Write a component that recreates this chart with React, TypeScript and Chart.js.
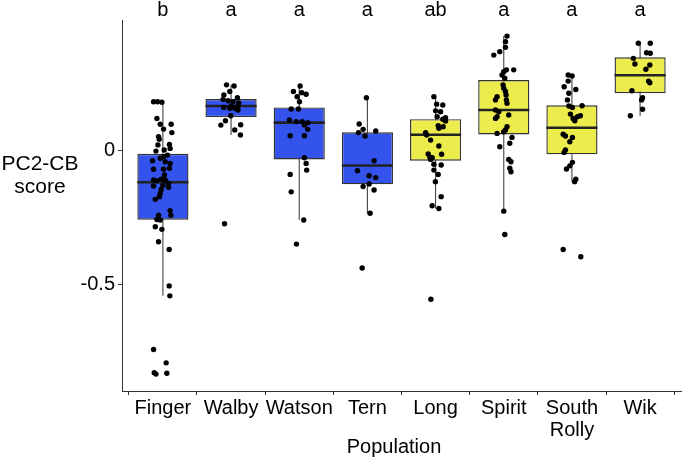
import React, { useEffect, useRef } from "react";
import { Chart, registerables } from "chart.js";

Chart.register(...registerables);

const categories = ["Finger", "Walby", "Watson", "Tern", "Long", "Spirit", "South Rolly", "Wik"];
const tickLabels: (string | string[])[] = ["Finger", "Walby", "Watson", "Tern", "Long", "Spirit", ["South", "Rolly"], "Wik"];
const groups = ["blue", "blue", "blue", "blue", "yellow", "yellow", "yellow", "yellow"];
const letters = ["b", "a", "a", "a", "ab", "a", "a", "a"];

const whiskerLow = [-0.544, 0.056, -0.261, -0.236, -0.218, -0.228, -0.118, 0.128];
const q1 = [-0.26, 0.123, -0.035, -0.128, -0.04, 0.058, -0.016, 0.212];
const medians = [-0.12, 0.164, 0.102, -0.058, 0.057, 0.149, 0.083, 0.279];
const q3 = [-0.014, 0.19, 0.159, 0.066, 0.115, 0.261, 0.167, 0.346];
const whiskerHigh = [0.18, 0.243, 0.239, 0.195, 0.199, 0.425, 0.28, 0.398];

const fingerValues = [0.18, 0.18, 0.178, 0.118, 0.096, 0.096, 0.078, 0.065, 0.05, 0.04, 0.021, 0.019, 0.006, 0, -0.004, -0.019, -0.025, -0.031, -0.04, -0.044, -0.05, -0.072, -0.072, -0.068, -0.093, -0.112, -0.115, -0.109, -0.112, -0.124, -0.131, -0.134, -0.139, -0.147, -0.162, -0.174, -0.184, -0.226, -0.243, -0.243, -0.259, -0.261, -0.286, -0.296, -0.342, -0.371, -0.507, -0.544, -0.744, -0.794, -0.831, -0.836, -0.833];
const fingerJitter = [-0.137, -0.079, -0.015, -0.088, -0.039, 0.121, 0.009, 0.131, -0.064, -0.054, 0.096, -0.073, 0.106, 0.019, -0.102, 0.067, 0.009, -0.039, -0.152, 0.034, 0.106, -0.137, 0.009, 0.096, 0.023, -0.137, -0.088, -0.025, 0.034, 0.082, 0, -0.137, 0.082, -0.025, -0.039, -0.05, -0.112, 0.106, -0.064, 0.117, -0.088, -0.039, -0.112, -0.015, -0.064, 0.092, 0.092, 0.102, -0.137, 0.048, -0.127, -0.102, 0.058];

const walbyValues = [0.243, 0.239, 0.218, 0.205, 0.195, 0.189, 0.184, 0.18, 0.176, 0.164, 0.164, 0.159, 0.156, 0.156, 0.149, 0.128, 0.093, 0.109, 0.094, 0.075, 0.056, -0.275];
const walbyJitter = [-0.067, 0.044, -0.019, -0.106, 0.093, -0.117, -0.044, 0.029, 0.112, 0.102, 0.006, -0.106, 0.054, -0.019, 0.102, -0.004, -0.15, -0.082, 0.141, 0.054, 0.137, -0.096];

const watsonValues = [0.239, 0.218, 0.214, 0.208, 0.199, 0.18, 0.153, 0.153, 0.112, 0.106, 0.106, 0.102, 0.093, 0.077, 0.053, 0.053, -0.029, -0.05, -0.075, -0.091, -0.156, -0.261, -0.351];
const watsonJitter = [0.013, -0.085, 0.036, 0.101, -0.031, 0.003, -0.118, -0.012, -0.143, -0.045, 0.042, 0.124, 0.076, 0.124, -0.133, 0.076, 0.076, 0.101, 0.109, -0.133, -0.118, 0.066, -0.041];

const ternValues = [0.195, 0.097, 0.077, 0.065, 0.071, 0.052, -0.04, -0.077, -0.096, -0.103, -0.127, -0.136, -0.149, -0.236, -0.44];
const ternJitter = [-0.015, -0.121, -0.063, -0.131, 0.122, -0.034, 0.098, -0.146, 0.025, 0.122, 0.025, -0.063, 0.098, 0.039, -0.077];

const longValues = [0.199, 0.171, 0.168, 0.146, 0.143, 0.124, 0.121, 0.115, 0.108, 0.091, 0.087, 0.081, 0.065, 0.056, 0.037, 0.015, -0.015, -0.016, -0.027, -0.029, -0.035, -0.053, -0.056, -0.075, -0.091, -0.118, -0.174, -0.208, -0.218, -0.557];
const longJitter = [-0.025, 0.015, 0.106, 0, 0.073, 0.023, 0.146, 0.106, 0.146, 0.038, 0.111, 0.048, -0.146, -0.131, -0.073, 0.048, -0.108, 0.088, -0.083, -0.05, -0.073, -0.025, 0.082, -0.025, 0.038, -0.003, 0.082, -0.05, 0.048, -0.069];

const spiritValues = [0.425, 0.404, 0.383, 0.367, 0.354, 0.299, 0.299, 0.292, 0.28, 0.268, 0.243, 0.23, 0.218, 0.205, 0.199, 0.187, 0.187, 0.174, 0.149, 0.143, 0.131, 0.124, 0.118, 0.087, 0.075, 0.068, 0.062, 0.047, 0.025, 0.012, -0.035, -0.044, -0.068, -0.081, -0.228, -0.315];
const spiritJitter = [0.048, 0.025, 0.025, -0.058, -0.146, 0.039, 0.146, 0, -0.025, 0.015, -0.01, 0, 0.025, 0.034, -0.098, -0.121, 0.039, 0.048, -0.121, -0.073, 0.073, -0.098, -0.121, 0.048, 0.025, 0, -0.098, 0.121, 0.088, -0.058, 0.073, 0.106, 0.088, 0.106, 0, 0.015];

const southRollyValues = [0.28, 0.276, 0.257, 0.236, 0.226, 0.212, 0.187, 0.164, 0.159, 0.165, 0.134, 0.128, 0.124, 0.118, 0.109, 0.059, 0.052, 0.047, 0.031, 0, -0.009, -0.046, -0.059, -0.071, -0.109, -0.118, -0.371, -0.398];
const southRollyJitter = [-0.055, 0.003, -0.055, -0.114, 0.057, -0.045, -0.066, -0.045, 0.007, 0.149, -0.022, 0.124, 0.08, 0.017, 0.042, -0.128, -0.095, 0.007, -0.031, -0.095, -0.114, 0.007, -0.031, -0.08, 0.057, 0.039, -0.128, 0.13];

const wikValues = [0.398, 0.398, 0.363, 0.361, 0.342, 0.321, 0.317, 0.301, 0.257, 0.251, 0.221, 0.195, 0.187, 0.152, 0.128];
const wikJitter = [-0.026, 0.149, 0.095, 0.149, -0.099, -0.076, 0.143, 0.085, 0.124, 0.143, -0.12, 0.036, 0.022, 0.036, -0.143];

const pointValues = [fingerValues, walbyValues, watsonValues, ternValues, longValues, spiritValues, southRollyValues, wikValues];
const pointJitter = [fingerJitter, walbyJitter, watsonJitter, ternJitter, longJitter, spiritJitter, southRollyJitter, wikJitter];

const yTicks = [-0.5, 0];

const BLUE = "#3353EC";
const YELLOW = "#ECEC4C";
const LINE = "#333333";
const FONT = "'Liberation Sans', Arial, sans-serif";

export default function App() {
  const ref = useRef<HTMLCanvasElement | null>(null);

  useEffect(() => {
    if (!ref.current) return;
    const scatterData: { x: number; y: number }[] = [];
    pointValues.forEach((vals, i) => {
      vals.forEach((v, k) => scatterData.push({ x: i + 1 + pointJitter[i][k], y: v }));
    });

    const boxPlugin = {
      id: "boxExtras",
      beforeDatasetsDraw(chart: any) {
        const { ctx } = chart;
        const xs = chart.scales.x;
        const ys = chart.scales.y;
        ctx.save();
        ctx.strokeStyle = "#444444";
        ctx.lineWidth = 1.1;
        categories.forEach((_, i) => {
          const x = xs.getPixelForValue(i + 1);
          ctx.beginPath();
          ctx.moveTo(x, ys.getPixelForValue(whiskerLow[i]));
          ctx.lineTo(x, ys.getPixelForValue(whiskerHigh[i]));
          ctx.stroke();
        });
        ctx.restore();
      },
      afterDatasetDraw(chart: any, args: any) {
        if (args.index !== 0) return;
        const { ctx } = chart;
        const xs = chart.scales.x;
        const ys = chart.scales.y;
        const meta = chart.getDatasetMeta(0);
        ctx.save();
        ctx.strokeStyle = "#222222";
        ctx.lineWidth = 2.6;
        categories.forEach((_, i) => {
          const bar = meta.data[i];
          const half = bar.width / 2;
          const x = xs.getPixelForValue(i + 1);
          const y = ys.getPixelForValue(medians[i]);
          ctx.beginPath();
          ctx.moveTo(x - half, y);
          ctx.lineTo(x + half, y);
          ctx.stroke();
        });
        ctx.restore();
      },
      afterDraw(chart: any) {
        const { ctx } = chart;
        const xs = chart.scales.x;
        ctx.save();
        ctx.fillStyle = "#000";
        ctx.font = `20px ${FONT}`;
        ctx.textAlign = "center";
        ctx.textBaseline = "alphabetic";
        letters.forEach((l, i) => {
          ctx.fillText(l, xs.getPixelForValue(i + 1), 16);
        });
        ctx.textBaseline = "middle";
        ctx.fillText("Population", 394, 447);
        ctx.font = `21px ${FONT}`;
        ctx.fillText("PC2-CB", 40, 164);
        ctx.fillText("score", 40, 187);
        ctx.restore();
      },
    };

    const chart = new Chart(ref.current, {
      type: "bar",
      data: {
        datasets: [
          {
            type: "bar",
            data: categories.map((_, i) => ({ x: i + 1, y: [q1[i], q3[i]] })) as any,
            backgroundColor: groups.map((g) => (g === "blue" ? BLUE : YELLOW)),
            borderColor: LINE,
            borderWidth: 1.4,
            borderSkipped: false,
            barPercentage: 0.75,
            categoryPercentage: 1,
            order: 1,
          } as any,
          {
            type: "scatter",
            data: scatterData,
            backgroundColor: "#000",
            borderColor: "#000",
            pointRadius: 2.7,
            borderWidth: 0,
            order: 0,
          } as any,
        ],
      },
      options: {
        responsive: false,
        animation: false,
        events: [],
        layout: { padding: { top: 20, right: 1, left: 0, bottom: 0 } },
        plugins: { legend: { display: false }, tooltip: { enabled: false } },
        scales: {
          x: {
            type: "linear",
            min: 0.4,
            max: 8.6,
            offset: false,
            afterBuildTicks: (scale: any) => {
              scale.ticks = categories.map((_, i) => ({ value: i + 1 }));
            },
            afterFit: (scale: any) => {
              scale.height = 68;
            },
            ticks: {
              autoSkip: false,
              maxRotation: 0,
              color: "#000",
              padding: 2,
              font: { size: 20, family: FONT, lineHeight: 1.1 },
              callback: (v: any) => tickLabels[Math.round(Number(v)) - 1] as any,
            },
            grid: { display: true, drawOnChartArea: false, drawTicks: true, tickLength: 4, color: LINE },
            border: { display: true, color: LINE, width: 1 },
          },
          y: {
            type: "linear",
            min: -0.899,
            max: 0.485,
            afterBuildTicks: (scale: any) => {
              scale.ticks = yTicks.map((v) => ({ value: v }));
            },
            afterFit: (scale: any) => {
              scale.width = 122;
            },
            ticks: {
              color: "#000",
              padding: 3,
              font: { size: 20, family: FONT },
              callback: (v: any) => (Number(v) === 0 ? "0" : String(v)),
            },
            grid: { display: true, drawOnChartArea: false, drawTicks: true, tickLength: 4, color: LINE },
            border: { display: true, color: LINE, width: 1 },
          },
        },
      } as any,
      plugins: [boxPlugin],
    });
    return () => chart.destroy();
  }, []);

  return (
    <div style={{ position: "fixed", left: 0, top: 0, width: 685, height: 459, background: "#fff" }}>
      <canvas ref={ref} width={685} height={459} style={{ width: 685, height: 459 }} />
    </div>
  );
}
